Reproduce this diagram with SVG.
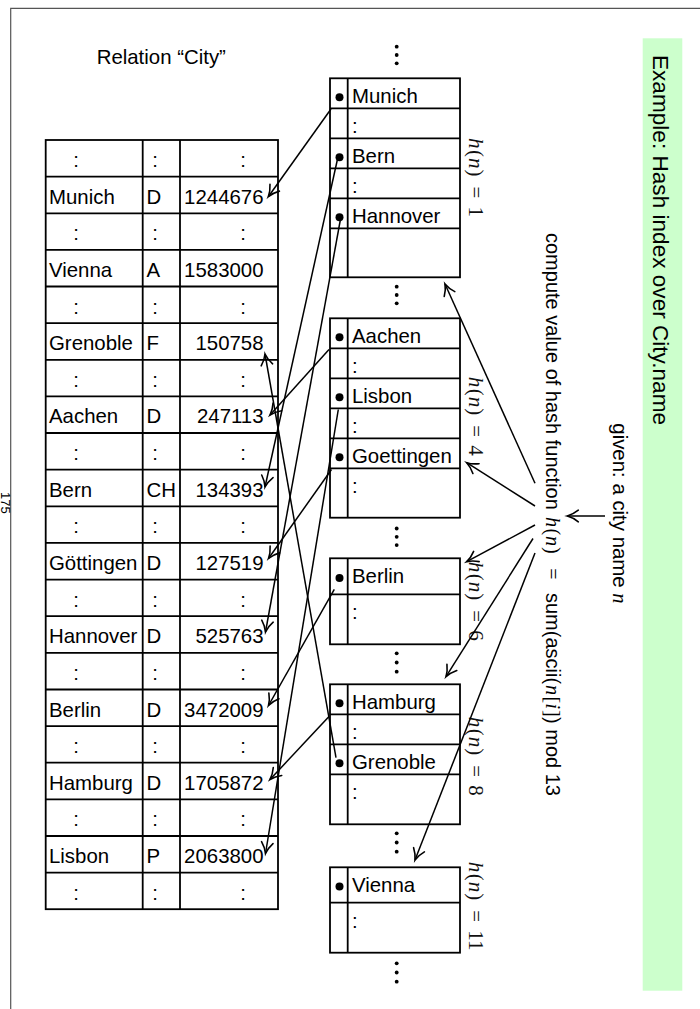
<svg xmlns="http://www.w3.org/2000/svg" width="700" height="1009" viewBox="0 0 700 1009">
<style>
.t{font-family:"Liberation Sans",Arial,sans-serif;font-size:20.4px;fill:#000}
.ti{font-family:"Liberation Sans",Arial,sans-serif;font-size:22.6px;fill:#000}
.m{font-family:"Liberation Serif","Times New Roman",serif;font-style:italic}
.mu{font-family:"Liberation Serif","Times New Roman",serif;font-style:normal}
.hl{font-family:"Liberation Serif","Times New Roman",serif;font-size:21px;fill:#111}
.c{text-anchor:middle}
.r{text-anchor:end}
.box{fill:none;stroke:#000;stroke-width:1.8}
.ln{fill:none;stroke:#000;stroke-width:1.8}
.cn{fill:none;stroke:#000;stroke-width:1.5;marker-end:url(#ah)}
.frame{fill:none;stroke:#555;stroke-width:1.2}
</style>
<defs>
<marker id="ah" markerUnits="userSpaceOnUse" viewBox="-14 -8 16 16" refX="0" refY="0" markerWidth="16" markerHeight="16" orient="auto" overflow="visible">
<path d="M -11 -5.8 C -7 -2.6, -3 -0.8, 0 0 C -3 0.8, -7 2.6, -11 5.8" fill="none" stroke="#000" stroke-width="1.6" stroke-linecap="round"/>
</marker>
</defs>
<rect width="700" height="1009" fill="#fff"/>
<path class="frame" d="M10.7 1009 V8.3 H700"/>
<text class="t" transform="translate(1,492) rotate(90)" style="font-size:13px">175</text>

<g id="title">
<rect x="642.7" y="38.3" width="39.6" height="952.4" fill="#ccffcc"/>
<text class="ti" transform="translate(653,55) rotate(90)">Example: Hash index over City.name</text>
</g>

<g id="relation-label">
<text class="t" x="96.7" y="64">Relation “City”</text>
</g>

<g id="relation-table">
<rect class="box" x="45.7" y="140" width="232.3" height="769.2"/>
<path class="ln" d="M142.7 140V909.2M180 140V909.2"/>
<path class="ln" d="M45.7 176.6H278M45.7 213.3H278M45.7 249.9H278M45.7 286.5H278M45.7 323.2H278M45.7 359.8H278M45.7 396.4H278M45.7 433H278M45.7 469.7H278M45.7 506.3H278M45.7 542.9H278M45.7 579.6H278M45.7 616.2H278M45.7 652.8H278M45.7 689.5H278M45.7 726.1H278M45.7 762.7H278M45.7 799.3H278M45.7 836H278M45.7 872.6H278"/>
<g>
<text class="t c" x="76" y="167">:</text><text class="t c" x="155" y="167">:</text><text class="t c" x="243" y="167">:</text>
<text class="t" x="49" y="203.6">Munich</text><text class="t" x="146.5" y="203.6">D</text><text class="t r" x="263.5" y="203.6">1244676</text>
<text class="t c" x="76" y="240.3">:</text><text class="t c" x="155" y="240.3">:</text><text class="t c" x="243" y="240.3">:</text>
<text class="t" x="49" y="276.9">Vienna</text><text class="t" x="146.5" y="276.9">A</text><text class="t r" x="263.5" y="276.9">1583000</text>
<text class="t c" x="76" y="313.5">:</text><text class="t c" x="155" y="313.5">:</text><text class="t c" x="243" y="313.5">:</text>
<text class="t" x="49" y="350.2">Grenoble</text><text class="t" x="146.5" y="350.2">F</text><text class="t r" x="263.5" y="350.2">150758</text>
<text class="t c" x="76" y="386.8">:</text><text class="t c" x="155" y="386.8">:</text><text class="t c" x="243" y="386.8">:</text>
<text class="t" x="49" y="423.4">Aachen</text><text class="t" x="146.5" y="423.4">D</text><text class="t r" x="263.5" y="423.4">247113</text>
<text class="t c" x="76" y="460">:</text><text class="t c" x="155" y="460">:</text><text class="t c" x="243" y="460">:</text>
<text class="t" x="49" y="496.7">Bern</text><text class="t" x="146.5" y="496.7">CH</text><text class="t r" x="263.5" y="496.7">134393</text>
<text class="t c" x="76" y="533.3">:</text><text class="t c" x="155" y="533.3">:</text><text class="t c" x="243" y="533.3">:</text>
<text class="t" x="49" y="569.9">Göttingen</text><text class="t" x="146.5" y="569.9">D</text><text class="t r" x="263.5" y="569.9">127519</text>
<text class="t c" x="76" y="606.6">:</text><text class="t c" x="155" y="606.6">:</text><text class="t c" x="243" y="606.6">:</text>
<text class="t" x="49" y="643.2">Hannover</text><text class="t" x="146.5" y="643.2">D</text><text class="t r" x="263.5" y="643.2">525763</text>
<text class="t c" x="76" y="679.8">:</text><text class="t c" x="155" y="679.8">:</text><text class="t c" x="243" y="679.8">:</text>
<text class="t" x="49" y="716.5">Berlin</text><text class="t" x="146.5" y="716.5">D</text><text class="t r" x="263.5" y="716.5">3472009</text>
<text class="t c" x="76" y="753.1">:</text><text class="t c" x="155" y="753.1">:</text><text class="t c" x="243" y="753.1">:</text>
<text class="t" x="49" y="789.7">Hamburg</text><text class="t" x="146.5" y="789.7">D</text><text class="t r" x="263.5" y="789.7">1705872</text>
<text class="t c" x="76" y="826.3">:</text><text class="t c" x="155" y="826.3">:</text><text class="t c" x="243" y="826.3">:</text>
<text class="t" x="49" y="863">Lisbon</text><text class="t" x="146.5" y="863">P</text><text class="t r" x="263.5" y="863">2063800</text>
<text class="t c" x="76" y="899.6">:</text><text class="t c" x="155" y="899.6">:</text><text class="t c" x="243" y="899.6">:</text>
</g>
</g>

<g id="ellipses" fill="#000">
<circle cx="396.7" cy="46.7" r="1.9"/><circle cx="396.7" cy="55" r="1.9"/><circle cx="396.7" cy="63.3" r="1.9"/>
<circle cx="396.7" cy="286.7" r="1.9"/><circle cx="396.7" cy="295" r="1.9"/><circle cx="396.7" cy="303.3" r="1.9"/>
<circle cx="396.7" cy="528.5" r="1.9"/><circle cx="396.7" cy="536.8" r="1.9"/><circle cx="396.7" cy="545.1" r="1.9"/>
<circle cx="396.7" cy="653.3" r="1.9"/><circle cx="396.7" cy="662.5" r="1.9"/><circle cx="396.7" cy="671.7" r="1.9"/>
<circle cx="396.7" cy="833.3" r="1.9"/><circle cx="396.7" cy="842.5" r="1.9"/><circle cx="396.7" cy="851.7" r="1.9"/>
<circle cx="396.7" cy="963.3" r="1.9"/><circle cx="396.7" cy="972.5" r="1.9"/><circle cx="396.7" cy="981.7" r="1.9"/>
</g>

<g id="bucket-1">
<rect class="box" x="330" y="78.3" width="130" height="199"/>
<path class="ln" d="M347.7 78.3V277.3M330 108.3H460M330 138.3H460M330 168.3H460M330 198.3H460M330 228.3H460"/>
<circle cx="339.5" cy="97.3" r="4"/><circle cx="339.5" cy="157.3" r="4"/><circle cx="339.5" cy="217.3" r="4"/>
<text class="t" x="352" y="103.3">Munich</text><text class="t" x="352" y="133.3">:</text>
<text class="t" x="352" y="163.3">Bern</text><text class="t" x="352" y="193.3">:</text>
<text class="t" x="352" y="223.3">Hannover</text>
</g>
<g id="bucket-4">
<rect class="box" x="330" y="318.3" width="130" height="199.4"/>
<path class="ln" d="M347.7 318.3V517.7M330 348.3H460M330 378.3H460M330 408.3H460M330 438.3H460M330 468.3H460"/>
<circle cx="339.5" cy="337.3" r="4"/><circle cx="339.5" cy="397.3" r="4"/><circle cx="339.5" cy="457.3" r="4"/>
<text class="t" x="352" y="343.3">Aachen</text><text class="t" x="352" y="373.3">:</text>
<text class="t" x="352" y="403.3">Lisbon</text><text class="t" x="352" y="433.3">:</text>
<text class="t" x="352" y="463.3">Goettingen</text><text class="t" x="352" y="493.3">:</text>
</g>
<g id="bucket-6">
<rect class="box" x="330" y="558.3" width="130" height="86"/>
<path class="ln" d="M347.7 558.3V644.3M330 594.3H460"/>
<circle cx="339.5" cy="578" r="4"/>
<text class="t" x="352" y="583.3">Berlin</text><text class="t" x="352" y="619.3">:</text>
</g>
<g id="bucket-8">
<rect class="box" x="330" y="684.3" width="130" height="140"/>
<path class="ln" d="M347.7 684.3V824.3M330 714.3H460M330 744.3H460M330 774.3H460"/>
<circle cx="339.5" cy="703.3" r="4"/><circle cx="339.5" cy="763.3" r="4"/>
<text class="t" x="352" y="709.3">Hamburg</text><text class="t" x="352" y="739.3">:</text>
<text class="t" x="352" y="769.3">Grenoble</text><text class="t" x="352" y="799.3">:</text>
</g>
<g id="bucket-11">
<rect class="box" x="330" y="867.3" width="130" height="85.4"/>
<path class="ln" d="M347.7 867.3V952.7M330 902.7H460"/>
<circle cx="339.5" cy="886.5" r="4"/>
<text class="t" x="352" y="891.7">Vienna</text><text class="t" x="352" y="927.7">:</text>
</g>

<g id="bucket-labels">
<text class="hl" transform="translate(469,138) rotate(90)"><tspan class="m" x="0">h</tspan><tspan class="mu" x="12">(</tspan><tspan class="m" x="20">n</tspan><tspan class="mu" x="31.5">)</tspan><tspan class="mu" x="48.5">=</tspan><tspan class="mu" x="68.5">1</tspan></text>
<text class="hl" transform="translate(469,376.7) rotate(90)"><tspan class="m" x="0">h</tspan><tspan class="mu" x="12">(</tspan><tspan class="m" x="20">n</tspan><tspan class="mu" x="31.5">)</tspan><tspan class="mu" x="48.5">=</tspan><tspan class="mu" x="68.5">4</tspan></text>
<text class="hl" transform="translate(469,561.7) rotate(90)"><tspan class="m" x="0">h</tspan><tspan class="mu" x="12">(</tspan><tspan class="m" x="20">n</tspan><tspan class="mu" x="31.5">)</tspan><tspan class="mu" x="48.5">=</tspan><tspan class="mu" x="68.5">6</tspan></text>
<text class="hl" transform="translate(469,716.7) rotate(90)"><tspan class="m" x="0">h</tspan><tspan class="mu" x="12">(</tspan><tspan class="m" x="20">n</tspan><tspan class="mu" x="31.5">)</tspan><tspan class="mu" x="48.5">=</tspan><tspan class="mu" x="68.5">8</tspan></text>
<text class="hl" transform="translate(469,861.7) rotate(90)"><tspan class="m" x="0">h</tspan><tspan class="mu" x="12">(</tspan><tspan class="m" x="20">n</tspan><tspan class="mu" x="31.5">)</tspan><tspan class="mu" x="48.5">=</tspan><tspan class="mu" x="68.5">11</tspan></text>
</g>

<g id="hash-function">
<text class="t" transform="translate(546,233) rotate(90)" style="font-size:20px"><tspan x="0">compute value of hash function</tspan><tspan class="m" x="284">h</tspan><tspan class="mu" x="295.5">(</tspan><tspan class="m" x="303">n</tspan><tspan class="mu" x="314">)</tspan><tspan class="mu" x="335.3">=</tspan><tspan x="360">sum(ascii(</tspan><tspan class="m" x="452">n</tspan><tspan class="mu" x="463.5">[</tspan><tspan class="m" x="470.5">i</tspan><tspan class="mu" x="477">]</tspan><tspan x="484">) mod 13</tspan></text>
</g>

<g id="given">
<text class="t" transform="translate(612.5,423.3) rotate(90)">given: a city name <tspan class="m">n</tspan></text>
</g>

<g id="connectors">
<line class="cn" x1="331" y1="109" x2="268.3" y2="196.7"/>
<line class="cn" x1="337.3" y1="160" x2="265" y2="487"/>
<line class="cn" x1="340.5" y1="219" x2="265.5" y2="632"/>
<line class="cn" x1="329" y1="349.5" x2="270" y2="415"/>
<line class="cn" x1="338.3" y1="409.5" x2="265.5" y2="853.5"/>
<line class="cn" x1="331.5" y1="469.5" x2="268.5" y2="558.5"/>
<line class="cn" x1="334.3" y1="589.3" x2="268.5" y2="705.5"/>
<line class="cn" x1="329" y1="716.5" x2="270" y2="779.5"/>
<line class="cn" x1="336" y1="757.7" x2="265" y2="354"/>
<line class="cn" x1="535" y1="483.3" x2="445" y2="284"/>
<line class="cn" x1="535" y1="506" x2="466.7" y2="462.7"/>
<line class="cn" x1="535" y1="525" x2="466.7" y2="561.7"/>
<line class="cn" x1="533" y1="538.5" x2="446" y2="676.7"/>
<line class="cn" x1="535" y1="553" x2="415" y2="860"/>
<line class="cn" x1="605" y1="516" x2="567.3" y2="516"/>
</g>
</svg>
